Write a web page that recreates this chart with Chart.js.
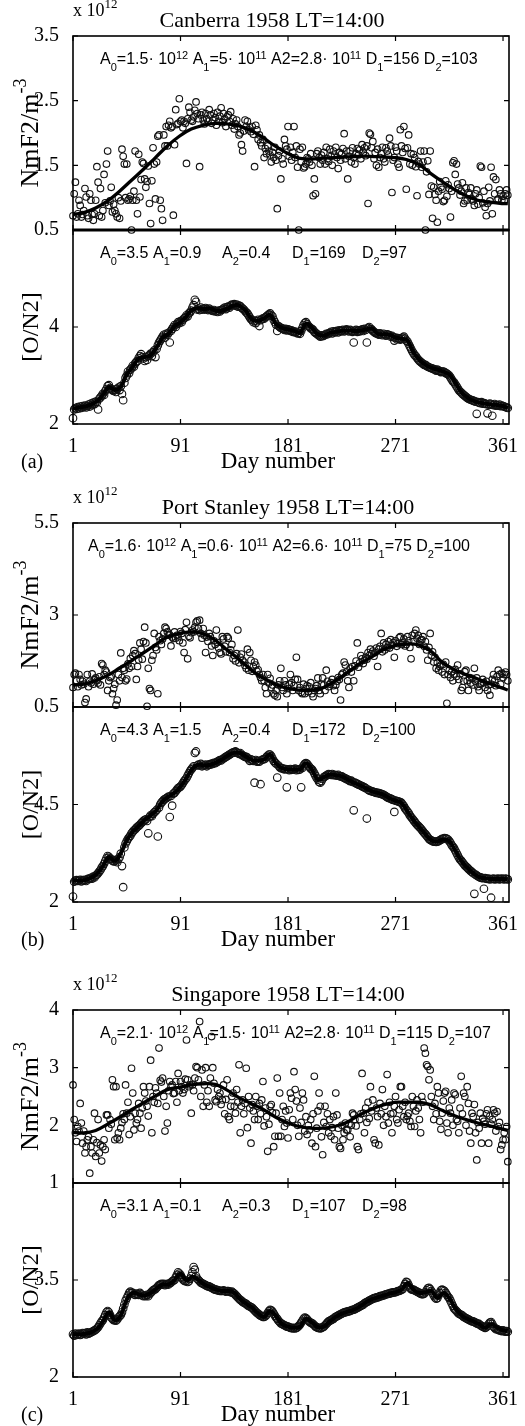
<!DOCTYPE html>
<html>
<head>
<meta charset="utf-8">
<script src="https://cdn.jsdelivr.net/npm/chart.js@4.4.1/dist/chart.umd.min.js"></script>
<style>
  body { margin: 0; background: #fff; width: 525px; height: 1426px; position: relative; overflow: hidden; }
  canvas { position: absolute; left: 0; }
</style>
</head>
<body>
<script>
// ---- data ----
const dayTicks = [1, 91, 181, 271, 361];
const fitDays = [1, 10, 20, 30, 40, 50, 60, 70, 80, 90, 100, 110, 120, 130, 140, 150, 160, 170, 180,
  190, 200, 210, 220, 230, 240, 250, 260, 270, 280, 290, 300, 310, 320, 330, 340, 350, 360, 365];
const pathDays = [1, 6, 11, 16, 21, 26, 31, 36, 41, 46, 51, 56, 61, 66, 71, 76, 81, 86, 91, 96, 101, 106,
  111, 116, 121, 126, 131, 136, 141, 146, 151, 156, 161, 166, 171, 176, 181, 186, 191, 196, 201, 206, 211,
  216, 221, 226, 231, 236, 241, 246, 251, 256, 261, 266, 271, 276, 281, 286, 291, 296, 301, 306, 311, 316,
  321, 326, 331, 336, 341, 346, 351, 356, 361, 365];

// Canberra
const canNmF2Ticks = [0.5, 1.5, 2.5, 3.5];
const canON2Ticks = [2, 4];
const canNmF2 = [ // daily, x 10^12 m^-3
  0.72,1.06,1.24,0.70,0.75,0.96,0.88,0.70,0.74,0.80, 1.14,1.01,0.72,0.68,1.06,0.96,0.74,0.65,0.75,0.96,
  1.48,1.24,0.72,1.14,0.70,0.80,1.36,0.92,1.52,1.72, 0.88,0.95,1.16,0.78,0.90,0.80,0.75,0.70,1.00,0.68,
  0.95,1.75,1.64,1.52,1.00,1.52,0.96,0.98,1.02,0.50, 0.96,1.10,1.72,0.96,0.75,1.67,1.01,1.28,1.55,1.53,
  1.29,1.16,1.25,1.49,0.91,0.60,1.26,1.77,1.52,0.98, 1.55,1.95,1.97,0.96,0.83,0.65,1.97,1.80,2.10,1.80,
  2.12,2.18,2.08,2.10,0.73,1.82,2.36,2.13,2.15,2.53, 2.18,2.20,2.08,2.18,2.15,1.53,2.22,2.40,2.32,2.20,
  2.18,2.25,2.35,2.48,2.30,2.22,1.48,2.28,2.32,2.20, 2.14,2.30,2.22,2.18,2.36,2.28,2.15,2.20,2.30,2.24,
  2.12,2.32,2.18,2.26,2.39,2.16,2.30,2.22,2.10,2.25, 2.28,2.18,2.33,2.12,2.22,2.06,2.14,2.20,2.10,1.97,
  2.00,1.82,1.72,2.03,2.20,2.10,2.18,2.05,2.08,2.02, 2.10,1.98,1.48,2.12,2.05,1.90,1.97,1.85,1.80,1.90,
  1.62,1.76,1.68,1.80,1.72,1.66,1.55,1.70,1.62,1.78, 1.58,0.83,1.65,1.72,1.29,1.60,1.52,1.90,1.80,1.75,
  2.10,1.64,1.78,1.58,1.70,2.10,1.62,1.80,1.47,0.50, 1.75,1.55,1.78,1.46,1.48,1.52,1.62,1.60,1.55,1.68,
  1.50,1.03,1.29,1.06,1.68,1.72,1.62,1.52,1.66,1.58, 1.70,1.52,1.78,1.60,1.56,1.75,1.64,1.50,1.72,1.66,
  1.78,1.62,1.45,1.70,1.58,1.68,1.76,1.99,1.60,1.72, 1.29,1.64,1.72,1.55,1.77,1.62,1.52,1.68,1.76,1.66,
  1.74,1.60,1.82,1.70,1.77,1.65,1.80,0.91,2.00,1.98, 1.77,1.87,1.60,1.70,1.50,1.75,1.47,1.62,1.68,1.78,
  1.60,1.55,1.77,1.72,1.66,1.92,1.80,1.08,1.58,1.62, 1.78,1.72,1.52,1.47,2.05,1.80,1.70,2.10,1.76,1.13,
  1.77,1.97,1.52,1.68,1.50,1.67,1.62,1.48,1.03,1.56, 1.52,1.72,1.47,1.55,1.72,0.50,1.40,1.57,1.05,1.72,
  1.18,0.68,1.16,1.05,0.96,0.62,1.10,1.25,1.16,1.13, 0.94,0.96,1.26,1.02,1.20,1.14,0.70,1.10,1.54,1.57,
  1.36,1.52,1.21,1.15,1.04,1.10,1.23,0.91,0.95,1.15, 0.96,1.08,1.05,1.15,0.98,0.95,0.88,1.06,1.12,0.90,
  1.00,1.49,1.47,0.92,1.10,0.85,0.72,0.91,1.16,0.95, 1.47,0.75,1.32,1.06,1.28,0.96,0.98,1.12,1.06,0.96,
  1.02,0.95,1.06,1.12,1.04
];
const canNmF2Fit = [0.74,0.77,0.84,0.95,1.10,1.27,1.44,1.62,1.80,1.95,2.06,2.12,2.15,2.14,2.11,2.04,1.93,
  1.80,1.69,1.61,1.60,1.61,1.62,1.63,1.64,1.64,1.63,1.62,1.59,1.52,1.38,1.25,1.13,1.03,0.96,0.93,0.91,0.91];
const canON2 = [
  2.12,2.30,2.33,2.31,2.35,2.32,2.36,2.33,2.37,2.35, 2.38,2.34,2.37,2.40,2.36,2.42,2.39,2.44,2.41,2.46,
  2.45,2.30,2.52,2.55,2.58,2.62,2.60,2.68,2.72,2.78, 2.80,2.74,2.72,2.70,2.68,2.71,2.66,2.72,2.75,2.70,
  2.78,2.62,2.49,2.85,2.95,3.00,3.08,3.05,3.12,3.15, 3.20,3.18,3.25,3.28,3.30,3.36,3.40,3.44,3.38,3.35,
  3.30,3.38,3.32,3.40,3.42,3.45,3.40,3.48,3.52,3.38, 3.55,3.62,3.68,3.72,3.76,3.80,3.84,3.78,3.86,3.84,
  3.88,3.68,3.92,3.96,4.00,4.04,4.00,4.06,4.10,4.08, 4.12,4.10,4.15,4.18,4.20,4.24,4.22,4.28,4.30,4.34,
  4.40,4.45,4.56,4.52,4.36,4.38,4.35,4.40,4.36,4.38, 4.36,4.39,4.37,4.35,4.38,4.36,4.34,4.33,4.35,4.32,
  4.33,4.31,4.34,4.32,4.35,4.36,4.38,4.40,4.37,4.41, 4.42,4.40,4.44,4.46,4.45,4.47,4.44,4.46,4.42,4.44,
  4.43,4.40,4.38,4.36,4.33,4.30,4.28,4.24,4.20,4.16, 4.14,4.10,4.13,4.08,4.12,4.15,4.02,4.14,4.16,4.18,
  4.17,4.20,4.22,4.24,4.26,4.28,4.24,4.22,4.15,4.10, 4.05,3.92,4.02,4.00,3.98,3.97,3.96,3.94,3.96,3.93,
  3.95,3.94,3.92,3.93,3.90,3.91,3.89,3.90,3.87,3.88, 3.86,3.92,3.98,4.04,4.08,4.10,4.06,4.02,4.00,3.97,
  3.96,3.94,3.90,3.88,3.86,3.84,3.82,3.80,3.83,3.81, 3.82,3.84,3.86,3.85,3.87,3.88,3.90,3.87,3.91,3.89,
  3.90,3.92,3.89,3.93,3.91,3.92,3.94,3.91,3.93,3.95, 3.93,3.91,3.94,3.92,3.90,3.68,3.92,3.94,3.90,3.93,
  3.91,3.93,3.95,3.92,3.96,3.94,3.68,3.98,4.00,3.96, 3.95,3.92,3.90,3.88,3.87,3.86,3.84,3.87,3.85,3.83,
  3.86,3.84,3.82,3.85,3.84,3.83,3.80,3.82,3.79,3.72, 3.78,3.75,3.77,3.76,3.74,3.76,3.78,3.80,3.76,3.72,
  3.70,3.65,3.60,3.55,3.50,3.46,3.42,3.40,3.36,3.33, 3.30,3.28,3.26,3.24,3.22,3.22,3.20,3.18,3.17,3.16,
  3.15,3.14,3.13,3.12,3.10,3.12,3.10,3.09,3.07,3.08, 3.08,3.07,3.05,3.04,3.02,3.00,2.96,2.92,2.88,2.86,
  2.82,2.78,2.74,2.70,2.67,2.65,2.62,2.60,2.58,2.56, 2.54,2.52,2.51,2.50,2.49,2.48,2.47,2.46,2.21,2.45,
  2.44,2.43,2.45,2.42,2.43,2.42,2.41,2.22,2.40,2.42, 2.40,2.17,2.39,2.41,2.38,2.39,2.38,2.40,2.37,2.38,
  2.37,2.36,2.35,2.34,2.33
];
const canON2Path = [2.31,2.34,2.36,2.40,2.47,2.60,2.76,2.70,2.77,3.02, 3.18,3.35,3.38,3.42,3.58,3.78,3.86,4.02,4.10,4.22,
  4.36,4.38,4.37,4.38,4.33,4.34,4.39,4.45,4.43,4.32, 4.15,4.13,4.18,4.25,4.06,3.98,3.95,3.92,3.88,4.07,
  3.98,3.85,3.82,3.88,3.90,3.92,3.93,3.92,3.92,3.95, 3.97,3.86,3.85,3.84,3.78,3.76,3.72,3.48,3.32,3.22,
  3.16,3.12,3.08,3.02,2.85,2.66,2.55,2.48,2.44,2.42, 2.40,2.39,2.37,2.33];

// Port Stanley
const staNmF2Ticks = [0.5, 3, 5.5];
const staON2Ticks = [2, 4.5];
const staNmF2 = [
  1.03,1.38,1.42,1.21,1.05,1.38,1.25,1.10,1.20,1.12, 0.62,0.72,1.38,1.05,1.20,1.15,1.40,1.12,1.25,1.29,
  1.21,1.15,1.32,1.10,1.68,1.64,1.38,1.50,1.45,0.95, 1.21,1.30,1.33,0.86,1.00,1.12,0.55,0.69,1.38,1.21,
  1.97,1.30,1.55,1.50,1.21,1.26,1.67,1.55,1.82,1.60, 1.90,2.03,1.95,1.25,1.60,1.78,2.24,2.07,1.80,2.28,
  2.67,2.24,0.52,1.55,1.00,0.95,1.77,1.90,2.50,2.12, 2.05,0.86,2.41,2.30,2.20,2.35,2.50,2.67,2.63,2.54,
  2.45,2.46,2.16,2.40,2.36,2.54,2.37,2.45,2.41,2.30, 2.55,2.50,2.24,1.98,2.60,2.80,1.81,2.42,2.38,2.52,
  2.59,2.54,2.67,2.80,2.84,2.64,2.86,2.50,2.37,2.63, 2.45,1.98,2.40,2.28,2.50,2.41,2.16,1.90,2.30,2.20,
  2.59,2.25,2.10,1.98,1.94,2.41,2.35,2.15,2.00,2.41, 2.37,1.98,2.05,2.20,1.81,1.90,1.75,1.95,2.59,1.70,
  1.85,1.94,1.77,1.72,1.63,1.55,2.07,1.50,1.98,1.77, 1.47,1.60,1.72,1.64,1.47,1.51,1.38,1.30,1.21,1.38,
  1.21,1.03,0.86,1.38,1.15,1.28,1.03,1.10,0.86,0.82, 0.95,0.78,1.10,1.21,1.55,1.03,0.95,1.21,1.10,0.86,
  1.00,1.12,1.38,1.16,0.95,1.08,1.25,1.85,1.25,0.95, 1.03,0.90,0.86,1.12,0.86,1.00,1.08,0.92,1.05,1.16,
  0.86,0.78,0.95,1.00,1.08,1.29,0.95,0.86,1.12,1.29, 1.10,0.95,1.50,1.20,1.05,1.12,1.16,1.25,1.08,0.95,
  1.10,1.20,1.30,1.25,0.69,1.38,1.42,1.72,1.64,1.45, 1.21,1.03,1.55,1.45,1.60,1.21,1.62,1.75,2.24,1.58,
  1.70,1.90,1.81,1.68,1.77,1.85,1.80,1.98,1.90,2.07, 1.95,2.02,1.88,1.98,2.10,1.60,2.07,2.15,2.50,2.00,
  2.24,2.05,2.20,2.12,2.28,2.10,2.33,2.18,2.25,1.85, 2.30,2.15,2.22,2.38,2.41,2.20,2.24,2.35,2.16,2.20,
  2.41,2.30,2.12,1.81,2.45,2.28,2.50,2.59,2.37,2.45, 2.20,2.32,2.33,2.41,2.15,2.28,2.05,1.77,2.12,2.50,
  1.90,2.00,1.72,1.85,1.55,1.70,1.50,1.60,1.64,1.45, 1.66,1.38,1.72,0.60,1.38,1.50,1.30,1.45,1.21,1.40,
  1.52,1.33,1.64,1.25,1.40,0.95,1.03,1.20,1.46,1.50, 1.21,0.95,1.30,1.15,1.28,1.10,1.55,1.20,1.29,1.05,
  0.95,1.12,1.14,1.25,1.16,1.03,1.20,0.95,1.10,0.82, 1.12,1.25,1.38,1.21,1.08,1.33,1.50,1.38,1.12,1.42,
  1.30,1.38,1.45,1.38,1.21
];
const staNmF2Fit = [1.10,1.12,1.22,1.36,1.56,1.76,1.97,2.19,2.40,2.50,2.54,2.49,2.32,2.05,1.80,1.51,1.29,
  1.12,1.01,0.96,0.95,1.02,1.20,1.42,1.65,1.84,2.04,2.17,2.21,2.19,2.03,1.72,1.52,1.38,1.26,1.13,1.02,0.96];
const staON2 = [
  2.14,2.52,2.55,2.56,2.54,2.55,2.57,2.53,2.56,2.55, 2.57,2.54,2.58,2.60,2.59,2.62,2.60,2.65,2.63,2.68,
  2.70,2.74,2.78,2.82,2.88,2.92,2.98,3.05,3.12,3.18, 3.16,3.12,3.10,3.06,3.04,3.05,3.08,3.02,3.10,3.15,
  3.24,2.92,2.38,3.40,3.50,3.56,3.62,3.66,3.70,3.76, 3.80,3.84,3.86,3.90,3.93,3.95,3.98,4.02,4.05,4.08,
  4.10,4.12,4.08,3.76,4.18,4.22,4.20,4.26,4.30,4.32, 4.36,3.68,4.42,4.50,4.55,4.58,4.62,4.64,4.66,4.68,
  4.70,4.18,4.72,4.47,4.78,4.80,4.84,4.88,4.92,4.94, 4.96,5.00,5.05,5.10,5.14,5.18,5.24,5.30,5.36,5.40,
  5.44,5.48,5.82,5.86,5.50,5.52,5.50,5.54,5.48,5.50, 5.50,5.52,5.48,5.51,5.53,5.52,5.55,5.54,5.57,5.56,
  5.58,5.60,5.62,5.64,5.63,5.66,5.68,5.70,5.72,5.74, 5.76,5.78,5.80,5.82,5.84,5.83,5.86,5.84,5.82,5.80,
  5.82,5.78,5.76,5.74,5.72,5.72,5.70,5.66,5.62,5.66, 5.64,5.62,5.06,5.64,5.60,5.62,5.60,5.02,5.64,5.66,
  5.66,5.68,5.72,5.75,5.78,5.78,5.74,5.68,5.62,5.58, 5.55,5.19,5.50,5.46,5.43,5.43,5.42,5.40,5.41,4.94,
  5.40,5.38,5.41,5.39,5.40,5.40,5.42,5.38,5.40,5.39, 5.40,4.94,5.44,5.50,5.54,5.56,5.54,5.50,5.46,5.42,
  5.40,5.36,5.30,5.24,5.18,5.14,5.08,5.06,5.10,5.16, 5.20,5.22,5.24,5.26,5.28,5.27,5.26,5.28,5.25,5.26,
  5.25,5.24,5.26,5.23,5.22,5.22,5.20,5.18,5.17,5.15, 5.14,5.12,5.10,5.11,5.08,4.35,5.06,5.04,5.03,5.01,
  5.00,4.98,4.97,4.95,4.94,4.92,4.14,4.88,4.86,4.85, 4.84,4.83,4.82,4.81,4.80,4.80,4.79,4.78,4.77,4.76,
  4.75,4.73,4.71,4.69,4.67,4.66,4.65,4.63,4.62,4.31, 4.60,4.59,4.58,4.57,4.56,4.54,4.50,4.46,4.40,4.36,
  4.32,4.28,4.22,4.18,4.14,4.10,4.06,4.02,3.98,3.95, 3.92,3.89,3.85,3.81,3.77,3.74,3.70,3.66,3.62,3.59,
  3.58,3.56,3.55,3.55,3.54,3.55,3.56,3.58,3.60,3.62, 3.62,3.64,3.63,3.62,3.60,3.56,3.52,3.46,3.42,3.38,
  3.32,3.26,3.20,3.14,3.09,3.06,3.02,2.98,2.94,2.91, 2.88,2.85,2.82,2.79,2.77,2.74,2.21,2.70,2.68,2.66,
  2.64,2.63,2.62,2.61,2.34,2.61,2.60,2.59,2.60,2.58, 2.11,2.59,2.60,2.58,2.59,2.59,2.60,2.58,2.59,2.60,
  2.59,2.58,2.60,2.59,2.58
];
const staON2Path = [2.55,2.55,2.56,2.62,2.72,2.92,3.15,3.05,3.25,3.58, 3.80,3.95,4.10,4.22,4.36,4.58,4.70,4.80,4.96,5.18,
  5.42,5.52,5.50,5.52,5.58,5.66,5.76,5.83,5.82,5.72, 5.64,5.62,5.66,5.78,5.55,5.43,5.40,5.40,5.40,5.56,
  5.40,5.14,5.20,5.27,5.25,5.22,5.14,5.06,5.00,4.92, 4.84,4.80,4.75,4.66,4.60,4.54,4.32,4.10,3.92,3.74,
  3.58,3.55,3.60,3.56,3.32,3.06,2.88,2.74,2.64,2.61, 2.59,2.59,2.59,2.58];

// Singapore
const sinNmF2Ticks = [1, 2, 3, 4];
const sinON2Ticks = [2, 3.5];
const sinNmF2 = [
  2.70,2.10,1.87,1.72,1.98,1.90,2.38,2.04,1.69,1.90, 1.52,1.63,1.75,1.80,1.17,1.63,1.52,1.75,2.21,1.46,
  1.70,2.10,1.52,1.66,1.38,1.63,1.75,1.58,2.18,2.18, 1.95,2.10,2.02,2.79,2.67,1.75,2.67,1.78,1.87,1.75,
  1.95,2.05,2.20,2.10,2.70,2.21,2.40,1.84,2.15,2.99, 2.56,1.92,2.21,2.04,2.10,2.38,2.21,1.95,2.30,2.67,
  2.56,2.42,2.33,2.16,2.67,3.13,1.87,2.50,2.40,2.65, 2.56,2.38,3.34,2.78,2.75,2.82,2.50,1.90,2.33,2.04,
  2.60,2.76,2.67,2.70,2.55,2.56,2.76,2.40,2.90,2.60, 2.76,2.67,2.56,2.62,2.80,3.48,2.79,2.67,2.70,2.21,
  2.70,2.60,2.82,3.02,3.00,2.79,3.80,2.50,2.96,2.33, 2.70,3.00,2.40,2.60,2.33,2.82,3.54,3.00,2.73,2.44,
  2.41,2.62,2.50,2.56,2.36,2.44,2.70,2.20,2.45,2.79, 2.15,2.10,2.33,2.50,2.56,2.33,2.21,2.62,2.40,3.05,
  1.87,2.33,2.44,2.20,2.38,2.99,1.96,2.50,2.30,1.69, 2.36,2.25,2.10,2.50,2.33,2.10,2.38,2.20,2.44,2.76,
  1.99,2.30,2.15,1.55,2.02,2.33,2.36,2.22,1.63,1.81, 2.21,2.82,1.81,2.56,1.81,2.10,2.33,1.98,2.25,2.04,
  1.78,2.27,2.56,2.47,2.10,2.93,2.62,2.42,2.00,1.81, 2.30,2.05,2.56,2.44,1.90,2.15,1.84,2.00,1.92,2.10,
  1.69,2.20,2.85,1.63,1.95,2.25,2.56,2.33,1.80,1.49, 2.05,2.33,1.98,2.20,1.87,2.10,1.81,1.96,2.15,1.75,
  2.56,2.18,1.95,1.63,1.60,2.00,1.75,1.87,2.04,1.92, 1.92,2.02,1.80,2.00,2.21,2.18,2.10,1.99,1.63,1.58,
  2.10,2.20,2.90,2.21,1.87,2.30,2.05,2.40,2.12,2.67, 2.25,2.44,1.75,1.69,2.30,2.15,1.66,2.38,2.20,2.62,
  2.00,2.33,2.15,2.88,2.04,2.40,2.20,1.87,2.21,2.33, 2.50,2.10,2.04,2.27,2.67,2.67,2.33,2.15,2.40,2.10,
  2.16,2.21,2.07,1.98,2.50,2.33,1.98,2.25,2.44,2.30, 2.10,1.87,2.50,2.40,3.34,3.25,3.05,3.02,2.79,2.96,
  2.50,2.33,2.10,2.38,2.20,2.67,2.56,2.07,1.93,2.21, 2.42,2.56,2.59,2.04,1.87,2.30,2.21,2.44,2.00,2.56,
  2.53,2.10,2.07,1.87,2.30,2.85,2.20,2.56,2.50,2.00, 2.67,2.38,1.90,1.69,2.21,2.15,2.36,1.87,1.40,2.05,
  1.95,2.21,1.69,2.12,2.07,2.02,2.20,2.27,1.69,2.16, 2.02,2.10,2.27,2.21,1.90,2.24,1.98,2.05,1.58,1.66,
  1.75,1.87,1.75,1.98,1.37
];
const sinNmF2Fit = [1.88,1.87,1.91,2.02,2.14,2.27,2.39,2.51,2.62,2.66,2.70,2.72,2.71,2.61,2.48,2.38,2.28,
  2.15,2.05,1.98,1.95,1.95,1.98,2.05,2.17,2.27,2.35,2.40,2.40,2.40,2.36,2.26,2.17,2.10,2.04,1.99,1.94,1.91];
const sinON2 = [
  2.66,2.64,2.67,2.65,2.66,2.67,2.65,2.66,2.68,2.67, 2.68,2.66,2.69,2.67,2.68,2.69,2.70,2.71,2.72,2.73,
  2.75,2.77,2.80,2.83,2.86,2.88,2.92,2.96,3.00,3.02, 3.00,2.96,2.92,2.90,2.88,2.88,2.87,2.89,2.92,2.94,
  2.96,3.00,3.06,3.12,3.18,3.22,3.26,3.30,3.32,3.30, 3.30,3.28,3.27,3.29,3.28,3.27,3.30,3.28,3.26,3.25,
  3.26,3.25,3.27,3.25,3.28,3.30,3.32,3.34,3.35,3.36, 3.38,3.40,3.42,3.43,3.44,3.43,3.44,3.42,3.43,3.44,
  3.43,3.45,3.46,3.48,3.49,3.50,3.54,3.58,3.62,3.60, 3.58,3.54,3.51,3.49,3.48,3.49,3.47,3.48,3.52,3.56,
  3.62,3.70,3.66,3.56,3.52,3.50,3.48,3.46,3.45,3.44, 3.43,3.42,3.41,3.40,3.40,3.39,3.38,3.37,3.36,3.35,
  3.35,3.34,3.34,3.33,3.33,3.33,3.34,3.33,3.32,3.33, 3.33,3.32,3.31,3.32,3.30,3.29,3.27,3.25,3.23,3.21,
  3.19,3.18,3.16,3.15,3.14,3.13,3.11,3.10,3.09,3.08, 3.07,3.05,3.03,3.01,2.99,2.98,2.96,2.95,2.94,2.93,
  2.93,2.94,2.96,2.99,3.02,3.04,3.03,3.01,2.98,2.95, 2.92,2.90,2.87,2.85,2.83,2.82,2.81,2.80,2.79,2.78,
  2.78,2.77,2.76,2.76,2.75,2.76,2.75,2.76,2.77,2.79, 2.81,2.84,2.87,2.90,2.92,2.91,2.89,2.87,2.85,2.84,
  2.83,2.82,2.80,2.78,2.77,2.76,2.76,2.75,2.76,2.77, 2.78,2.80,2.82,2.84,2.86,2.87,2.88,2.89,2.90,2.92,
  2.93,2.94,2.95,2.96,2.97,2.98,2.99,3.00,3.00,3.01, 3.01,3.02,3.02,3.03,3.04,3.04,3.05,3.06,3.07,3.08,
  3.09,3.10,3.11,3.12,3.14,3.15,3.16,3.17,3.18,3.19, 3.20,3.21,3.22,3.22,3.23,3.23,3.24,3.25,3.25,3.26,
  3.26,3.27,3.28,3.28,3.29,3.29,3.30,3.30,3.31,3.31, 3.31,3.32,3.33,3.33,3.34,3.35,3.36,3.40,3.44,3.47,
  3.46,3.42,3.38,3.36,3.35,3.35,3.34,3.33,3.32,3.31, 3.30,3.29,3.28,3.28,3.29,3.31,3.34,3.37,3.38,3.36,
  3.33,3.30,3.26,3.23,3.21,3.22,3.26,3.30,3.34,3.35, 3.34,3.33,3.30,3.27,3.24,3.22,3.18,3.14,3.10,3.06,
  3.04,3.02,3.00,2.98,2.97,2.96,2.95,2.93,2.92,2.91, 2.90,2.89,2.88,2.87,2.86,2.86,2.85,2.84,2.83,2.82,
  2.82,2.80,2.79,2.78,2.77,2.76,2.77,2.79,2.82,2.84, 2.85,2.82,2.78,2.76,2.74,2.74,2.73,2.72,2.72,2.71,
  2.72,2.71,2.70,2.71,2.70
];
const sinON2Path = [2.66,2.66,2.67,2.69,2.74,2.86,3.00,2.88,2.95,3.20, 3.30,3.28,3.26,3.30,3.37,3.43,3.43,3.50,3.60,3.49,
  3.55,3.50,3.43,3.39,3.35,3.33,3.33,3.30,3.20,3.13, 3.07,2.98,2.93,3.02,2.94,2.82,2.78,2.76,2.78,2.90,
  2.84,2.77,2.78,2.86,2.93,2.98,3.01,3.04,3.09,3.15, 3.20,3.23,3.26,3.29,3.31,3.35,3.45,3.35,3.30,3.31,
  3.33,3.22,3.30,3.22,3.06,2.96,2.90,2.86,2.82,2.76, 2.82,2.76,2.72,2.71];

// ---- layout of the three panels (page pixels) ----
const SERIF = '"Liberation Serif", "Times New Roman", serif';
const SANS = '"Liberation Sans", Arial, sans-serif';
const PLOT_LEFT = 73, RIGHT_PAD = 16;
const PAD = 40; // room kept around every plot box so Chart.js never moves it
const noteXs = [100, 153, 222, 292, 362];

const panels = [
  { label: '(a)', title: 'Canberra 1958 LT=14:00', titleX: 272, top: 36, mid: 230, bottom: 424, sep: 3,
    nm: { min: 0.5, max: 3.5, ticks: canNmF2Ticks, obs: canNmF2, fit: canNmF2Fit },
    on: { min: 2, max: 6, ticks: canON2Ticks, obs: canON2, path: canON2Path },
    topNote: 'A_0=1.5· 10^12 A_1=5· 10^11 A2=2.8· 10^11 D_1=156 D_2=103', topNoteX: 100,
    botNote: ['A_0=3.5', 'A_1=0.9', 'A_2=0.4', 'D_1=169', 'D_2=97'] },
  { label: '(b)', title: 'Port Stanley 1958 LT=14:00', titleX: 288, top: 523, mid: 707, bottom: 902, sep: 0,
    nm: { min: 0.5, max: 5.5, ticks: staNmF2Ticks, obs: staNmF2, fit: staNmF2Fit },
    on: { min: 2, max: 7, ticks: staON2Ticks, obs: staON2, path: staON2Path },
    topNote: 'A_0=1.6· 10^12 A_1=0.6· 10^11 A2=6.6· 10^11 D_1=75 D_2=100', topNoteX: 88,
    botNote: ['A_0=4.3', 'A_1=1.5', 'A_2=0.4', 'D_1=172', 'D_2=100'] },
  { label: '(c)', title: 'Singapore 1958 LT=14:00', titleX: 288, top: 1010, mid: 1183, bottom: 1377, sep: 0,
    nm: { min: 1, max: 4, ticks: sinNmF2Ticks, obs: sinNmF2, fit: sinNmF2Fit },
    on: { min: 2, max: 5, ticks: sinON2Ticks, obs: sinON2, path: sinON2Path },
    topNote: 'A_0=2.1· 10^12 A_1=1.5· 10^11 A2=2.8· 10^11 D_1=115 D_2=107', topNoteX: 100,
    botNote: ['A_0=3.1', 'A_1=0.1', 'A_2=0.3', 'D_1=107', 'D_2=98'] }
];

// text with _x subscripts and ^12 superscripts
function tokens(str) {
  const out = [];
  for (let i = 0; i < str.length; i++) {
    const c = str[i];
    if (c === '_') out.push([str[++i], 1]);
    else if (c === '^') {
      let s = '';
      while (i + 1 < str.length && /[-0-9]/.test(str[i + 1])) s += str[++i];
      out.push([s, 2]);
    } else out.push([c, 0]);
  }
  return out;
}

function drawRich(ctx, t) {
  const toks = tokens(t.str);
  const fontFor = m => (m ? Math.round(t.size * 0.7) : t.size) + 'px ' + t.family;
  let w = 0;
  toks.forEach(([s, m]) => { ctx.font = fontFor(m); w += ctx.measureText(s).width; });
  ctx.save();
  let x = t.x, y = t.y;
  if (t.rotate) {
    ctx.translate(t.x, t.y);
    ctx.rotate(-Math.PI / 2);
    x = 0; y = t.size * 0.33;
  }
  let cx = t.align === 'center' || t.rotate ? x - w / 2 : x;
  ctx.textAlign = 'left';
  ctx.textBaseline = 'alphabetic';
  toks.forEach(([s, m]) => {
    ctx.font = fontFor(m);
    const dy = m === 1 ? t.size * 0.42 : m === 2 ? -t.size * (t.supRise || 0.38) : 0;
    ctx.fillText(s, cx, y + dy);
    cx += ctx.measureText(s).width;
  });
  ctx.restore();
}

function decor(spec) {
  return {
    id: 'decor',
    afterDraw(chart) {
      const { ctx, chartArea: a } = chart;
      const xs = chart.scales.x, ys = chart.scales.y;
      ctx.save();
      ctx.strokeStyle = '#000';
      ctx.fillStyle = '#000';
      ctx.lineWidth = 1.6;
      ctx.strokeRect(a.left, a.top, a.right - a.left, a.bottom - a.top);
      ctx.lineWidth = 1.2;
      ctx.beginPath();
      dayTicks.forEach(v => {
        const p = xs.getPixelForValue(v);
        ctx.moveTo(p, a.top); ctx.lineTo(p, a.top + 5);
        ctx.moveTo(p, a.bottom); ctx.lineTo(p, a.bottom - 5);
      });
      spec.yTicks.forEach(v => {
        const p = ys.getPixelForValue(v);
        ctx.moveTo(a.left, p); ctx.lineTo(a.left + 5, p);
        ctx.moveTo(a.right, p); ctx.lineTo(a.right - 5, p);
      });
      ctx.stroke();
      if (spec.sep) {
        ctx.lineWidth = spec.sep;
        ctx.beginPath();
        ctx.moveTo(a.left, a.top); ctx.lineTo(a.right, a.top);
        ctx.stroke();
      }
      spec.texts.forEach(t => drawRich(ctx, t));
      ctx.restore();
    }
  };
}

function addCanvas(pageTop, height) {
  const c = document.createElement('canvas');
  c.width = 525;
  c.height = height;
  c.style.top = pageTop + 'px';
  document.body.appendChild(c);
  return c;
}

function makeSub(o) {
  const canvas = addCanvas(o.pageTop, o.height);
  const tickFont = { family: SERIF, size: 20 };
  return new Chart(canvas.getContext('2d'), {
    type: 'scatter',
    data: {
      datasets: [
        { data: o.line, showLine: true, pointRadius: 0, borderColor: '#000',
          borderWidth: o.lineWidth, tension: 0.4 },
        { data: o.points, pointRadius: o.radius, borderWidth: 1.1, borderColor: '#111',
          backgroundColor: 'rgba(0,0,0,0)', clip: false }
      ]
    },
    options: {
      responsive: false,
      animation: false,
      events: [],
      layout: { padding: { top: PAD, right: RIGHT_PAD, bottom: o.padBottom, left: 0 } },
      plugins: { legend: { display: false }, tooltip: { enabled: false } },
      scales: {
        x: {
          type: 'linear', min: 1, max: 366,
          grid: { display: false }, border: { display: false },
          afterBuildTicks: s => { s.ticks = dayTicks.map(v => ({ value: v })); },
          ticks: { display: o.showX, autoSkip: false, maxRotation: 0, padding: 3, color: '#000', font: tickFont },
          afterFit: s => { s.height = o.xAxisH; }
        },
        y: {
          type: 'linear', min: o.min, max: o.max,
          grid: { display: false }, border: { display: false },
          afterBuildTicks: s => { s.ticks = o.ticks.map(v => ({ value: v })); },
          ticks: { padding: 6, color: '#000', font: tickFont },
          afterFit: s => { s.width = PLOT_LEFT; }
        }
      }
    },
    plugins: [decor({ yTicks: o.ticks, sep: o.sep, texts: o.texts })]
  });
}

const asPoints = arr => arr.map((v, i) => ({ x: i + 1, y: v }));
const onDays = (days, arr) => arr.map((v, i) => ({ x: days[i], y: v }));

panels.forEach(p => {
  // NmF2 subplot: canvas runs PAD above and PAD below the plot box
  const topPage = p.top - PAD;
  const shiftT = t => Object.assign({}, t, { y: t.y - topPage });
  makeSub({
    pageTop: topPage, height: PAD + (p.mid - p.top) + PAD, padBottom: PAD, xAxisH: 0, showX: false,
    min: p.nm.min, max: p.nm.max, ticks: p.nm.ticks, radius: 3.3,
    points: asPoints(p.nm.obs), line: onDays(fitDays, p.nm.fit), lineWidth: 3.3, sep: 0,
    texts: [
      { str: 'x 10^12', x: PLOT_LEFT, y: p.top - 20, size: 18, family: SERIF, supRise: 0.42 },
      { str: p.title, x: p.titleX, y: p.top - 9, size: 22, family: SERIF, align: 'center' },
      { str: 'NmF2/m^-3', x: 29, y: (p.top + p.mid) / 2, size: 26, family: SERIF, rotate: true, supRise: 0.45 },
      { str: p.topNote, x: p.topNoteX, y: p.top + 28, size: 16, family: SANS, supRise: 0.32 }
    ].map(shiftT)
  });

  // [O/N2] subplot: canvas runs PAD above the plot box and 64 px below it
  const botPage = p.mid - PAD;
  const shiftB = t => Object.assign({}, t, { y: t.y - botPage });
  const notes = p.botNote.map((s, i) => ({ str: s, x: noteXs[i], y: p.mid + 28, size: 16, family: SANS }));
  makeSub({
    pageTop: botPage, height: PAD + (p.bottom - p.mid) + 64, padBottom: 0, xAxisH: 64, showX: true,
    min: p.on.min, max: p.on.max, ticks: p.on.ticks, radius: 3.8,
    points: asPoints(p.on.obs), line: onDays(pathDays, p.on.path), lineWidth: 4, sep: p.sep,
    texts: notes.concat([
      { str: '[O/N2]', x: 30, y: (p.mid + p.bottom) / 2, size: 24, family: SERIF, rotate: true },
      { str: 'Day number', x: 278, y: p.bottom + 44, size: 23, family: SERIF, align: 'center' },
      { str: p.label, x: 21, y: p.bottom + 44, size: 20, family: SERIF }
    ]).map(shiftB)
  });
});
</script>
</body>
</html>
